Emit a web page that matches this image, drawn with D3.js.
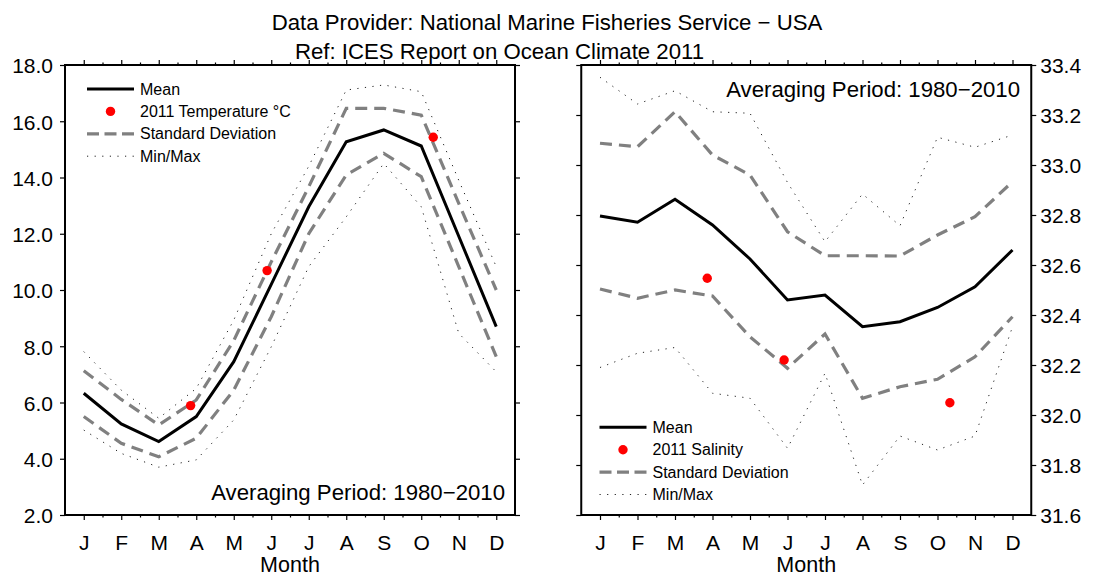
<!DOCTYPE html>
<html><head><meta charset="utf-8">
<script src="https://cdn.jsdelivr.net/npm/d3@7"></script>
<style>
body{margin:0;background:#fff}
svg{display:block;font-family:"Liberation Sans",Arial,Helvetica,sans-serif}
</style>
</head><body>
<svg id="chart" width="1104" height="576"></svg>
<script>
// ---------- DATA ----------
const monthNums = [1,2,3,4,5,6,7,8,9,10,11,12];
const monthLabels = ["J","F","M","A","M","J","J","A","S","O","N","D"];

// Temperature panel
const tempMean   = [6.33,5.24,4.61,5.50,7.45,10.2,12.96,15.27,15.69,15.12,11.91,8.70];
const tempSdHigh = [7.13,6.11,5.20,6.09,8.20,11.0,13.67,16.46,16.46,16.22,13.08,10.0];
const tempSdLow  = [5.50,4.55,4.07,4.73,6.44,9.05,12.0,14.09,14.86,14.03,10.83,7.63];
const tempMax    = [7.81,6.44,5.44,6.50,8.93,12.0,14.4,17.11,17.29,17.05,13.9,10.83];
const tempMin    = [5.02,4.19,3.70,3.96,5.38,7.98,10.83,12.6,14.5,12.96,8.46,7.09];
const temp2011Month = [3.85,5.89,10.32];
const temp2011Value = [5.89,10.69,15.43];
const tempTicks = [2,4,6,8,10,12,14,16,18];

// Salinity panel
const salMean   = [32.796,32.771,32.863,32.76,32.624,32.46,32.48,32.353,32.373,32.43,32.513,32.66];
const salSdHigh = [33.087,33.073,33.213,33.04,32.96,32.733,32.637,32.637,32.636,32.72,32.793,32.933];
const salSdLow  = [32.504,32.467,32.50,32.476,32.313,32.187,32.324,32.067,32.113,32.143,32.233,32.393];
const salMax    = [33.351,33.244,33.297,33.213,33.207,32.93,32.693,32.884,32.757,33.111,33.071,33.12];
const salMin    = [32.19,32.247,32.27,32.087,32.067,31.867,32.167,31.72,31.916,31.86,31.916,32.353];
const sal2011Month = [3.86,5.91,10.33];
const sal2011Value = [32.547,32.22,32.049];
const salTicks = [31.6,31.8,32.0,32.2,32.4,32.6,32.8,33.0,33.2,33.4];

const titleLine1 = "Data Provider: National Marine Fisheries Service \u2212 USA";
const titleLine2 = "Ref: ICES Report on Ocean Climate 2011";
const periodText = "Averaging Period: 1980\u22122010";
const xTitle = "Month";

// ---------- DRAW ----------
const svg = d3.select("#chart");
const FONT = 21;

svg.append("text").attr("x",547).attr("y",30).attr("text-anchor","middle")
  .attr("font-size",22.2).text(titleLine1);
svg.append("text").attr("x",295).attr("y",58.5).attr("text-anchor","start")
  .attr("font-size",22.2).text(titleLine2);

function panel(cfg){
  const x = d3.scaleLinear().domain([0.5,12.5]).range([cfg.left, cfg.left+450]);
  const y = d3.scaleLinear().domain(cfg.yDomain).range([515,65]);
  const g = svg.append("g");

  const line = (arr)=> d3.line().x((d,i)=>x(monthNums[i])).y(d=>y(d))(arr);

  // min/max dotted
  [cfg.max,cfg.min].forEach(a=>{
    g.append("path").attr("d",line(a)).attr("fill","none")
      .attr("stroke","#222").attr("stroke-width",1).attr("stroke-dasharray","1.2,6.4");
  });
  // std dev dashed
  [cfg.sdHigh,cfg.sdLow].forEach(a=>{
    g.append("path").attr("d",line(a)).attr("fill","none")
      .attr("stroke","#808080").attr("stroke-width",3.2).attr("stroke-dasharray","12,7");
  });
  // mean
  g.append("path").attr("d",line(cfg.mean)).attr("fill","none")
    .attr("stroke","#000").attr("stroke-width",3).attr("stroke-linejoin","miter");
  // 2011 dots
  g.selectAll("circle.obs").data(cfg.obsVal).enter().append("circle")
    .attr("cx",(d,i)=>x(cfg.obsMonth[i])).attr("cy",d=>y(d)).attr("r",4.7).attr("fill","#ff0000");

  // axes
  const halfMonths = d3.range(1,12).map(m=>m+0.5);
  g.append("g").attr("transform","translate(0,515)")
    .call(d3.axisBottom(x).tickValues(monthNums).tickFormat((d,i)=>monthLabels[i]).tickSize(5).tickPadding(15));
  g.append("g").attr("transform","translate(0,515)")
    .call(d3.axisBottom(x).tickValues(halfMonths).tickFormat("").tickSize(2.5));
  g.append("g").attr("transform","translate(0,65)")
    .call(d3.axisTop(x).tickValues(monthNums).tickFormat("").tickSize(5));
  g.append("g").attr("transform","translate(0,65)")
    .call(d3.axisTop(x).tickValues(halfMonths).tickFormat("").tickSize(2.5));

  const yl = g.append("g").attr("transform",`translate(${cfg.left},0)`)
    .call(d3.axisLeft(y).tickValues(cfg.ticks).tickFormat(cfg.labelLeft?d3.format(".1f"):"").tickSize(5).tickPadding(7));
  const yr = g.append("g").attr("transform",`translate(${cfg.left+450},0)`)
    .call(d3.axisRight(y).tickValues(cfg.ticks).tickFormat(cfg.labelLeft?"":d3.format(".1f")).tickSize(5).tickPadding(4));

  g.selectAll(".domain").remove();
  g.selectAll(".tick line").attr("stroke","#000").attr("stroke-width",1.2);
  g.selectAll(".tick text").attr("font-size",FONT).attr("fill","#000")
    .attr("font-family","'Liberation Sans',Arial,sans-serif");
  [yl,yr].forEach(a=>a.selectAll(".tick text").attr("dy","0.37em"));

  // frame
  g.append("rect").attr("x",cfg.left).attr("y",65).attr("width",450).attr("height",450)
    .attr("fill","none").attr("stroke","#000").attr("stroke-width",2);

  // x title
  g.append("text").attr("x",cfg.left+225).attr("y",571.5).attr("text-anchor","middle")
    .attr("font-size",21.5).text(xTitle);

  // period text
  g.append("text").attr("x",cfg.periodX).attr("y",cfg.periodY).attr("text-anchor","end")
    .attr("font-size",22.2).text(periodText);

  // legend
  const L = cfg.legend;
  const rows = [L.y, L.y+22.4, L.y+44.8, L.y+67.2];
  g.append("line").attr("x1",L.x).attr("x2",L.x+47).attr("y1",rows[0]).attr("y2",rows[0])
    .attr("stroke","#000").attr("stroke-width",3);
  g.append("circle").attr("cx",L.x+23.5).attr("cy",rows[1]).attr("r",4.7).attr("fill","#ff0000");
  g.append("line").attr("x1",L.x).attr("x2",L.x+47).attr("y1",rows[2]).attr("y2",rows[2])
    .attr("stroke","#808080").attr("stroke-width",3.2).attr("stroke-dasharray","12,5.5");
  g.append("line").attr("x1",L.x).attr("x2",L.x+47).attr("y1",rows[3]).attr("y2",rows[3])
    .attr("stroke","#222").attr("stroke-width",1).attr("stroke-dasharray","1.2,6.4");
  cfg.legendLabels.forEach((t,i)=>{
    g.append("text").attr("x",L.x+53).attr("y",rows[i]+5.5).attr("font-size",16).text(t);
  });
}

panel({
  left:65, yDomain:[2,18], ticks:tempTicks, labelLeft:true,
  mean:tempMean, sdHigh:tempSdHigh, sdLow:tempSdLow, max:tempMax, min:tempMin,
  obsMonth:temp2011Month, obsVal:temp2011Value,
  periodX:505, periodY:499.5,
  legend:{x:87,y:89},
  legendLabels:["Mean","2011 Temperature \u00b0C","Standard Deviation","Min/Max"]
});
panel({
  left:581.25, yDomain:[31.6,33.4], ticks:salTicks, labelLeft:false,
  mean:salMean, sdHigh:salSdHigh, sdLow:salSdLow, max:salMax, min:salMin,
  obsMonth:sal2011Month, obsVal:sal2011Value,
  periodX:1020, periodY:96.5,
  legend:{x:599.5,y:427.3},
  legendLabels:["Mean","2011 Salinity","Standard Deviation","Min/Max"]
});
</script>
</body></html>
